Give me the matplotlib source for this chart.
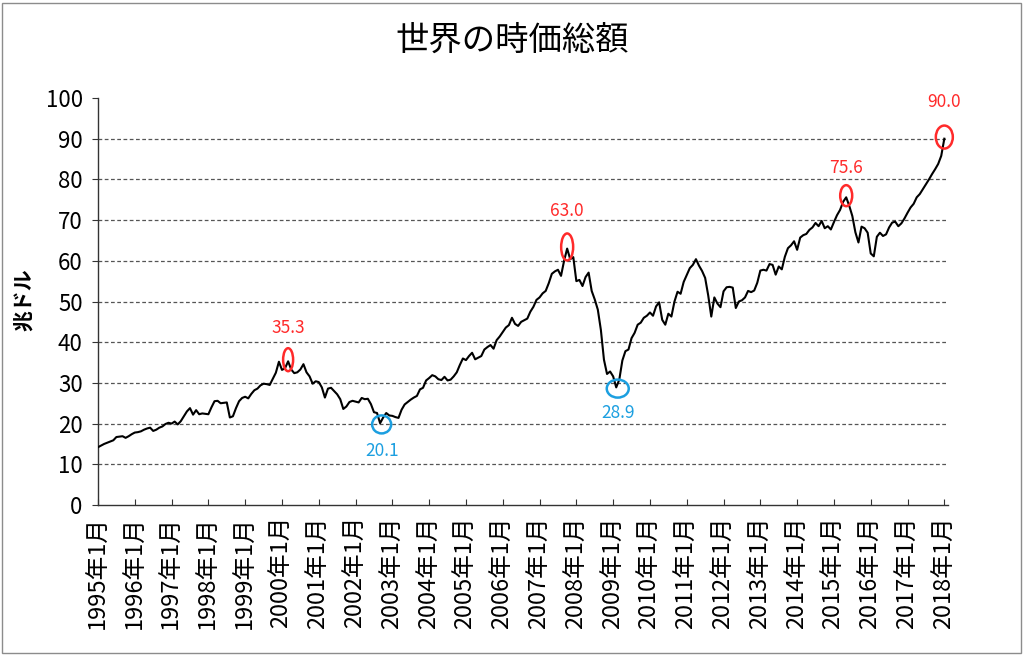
import matplotlib
matplotlib.use("Agg")
import matplotlib.pyplot as plt
from matplotlib.patches import Ellipse, Rectangle

plt.rcParams['font.family'] = ['Noto Sans CJK JP', 'DejaVu Sans']

# ---- data (monthly, Jan 1995 .. Jan 2018), trillions of USD ----
years = list(range(1995, 2019))
tick_labels = [f"{y}年1月" for y in years]

v1995 = [14.2, 14.6, 15.0, 15.3, 15.6, 15.9, 16.7, 16.8, 16.9, 16.5, 16.9, 17.4]
v1996 = [17.8, 17.9, 18.1, 18.5, 18.8, 19.0, 18.2, 18.5, 19.0, 19.3, 19.9, 20.2]
v1997 = [20.0, 20.5, 19.8, 20.6, 21.8, 23.0, 23.8, 22.2, 23.3, 22.3, 22.5, 22.4]
v1998 = [22.3, 24.0, 25.5, 25.6, 25.0, 25.1, 25.2, 21.5, 21.8, 23.8, 25.5, 26.3]
v1999 = [26.6, 26.2, 27.3, 28.2, 28.6, 29.4, 29.8, 29.7, 29.5, 31.0, 32.5, 35.2]
v2000 = [33.2, 33.6, 35.3, 33.3, 32.4, 32.6, 33.3, 34.6, 32.6, 31.6, 29.8, 30.4]
v2001 = [30.2, 28.9, 26.4, 28.6, 28.8, 28.0, 27.2, 26.0, 23.6, 24.2, 25.3, 25.6]
v2002 = [25.4, 25.2, 26.3, 26.0, 26.1, 24.8, 22.8, 22.6, 20.1, 21.5, 22.6, 22.0]
v2003 = [21.9, 21.6, 21.4, 23.4, 24.7, 25.3, 25.9, 26.4, 26.8, 28.4, 28.8, 30.6]
v2004 = [31.2, 31.9, 31.6, 30.9, 30.7, 31.5, 30.6, 30.8, 31.6, 32.6, 34.4, 36.0]
v2005 = [35.6, 36.6, 37.4, 35.8, 36.2, 36.6, 38.2, 38.8, 39.3, 38.4, 40.5, 41.4]
v2006 = [42.5, 43.6, 44.2, 46.0, 44.5, 44.0, 45.0, 45.4, 45.8, 47.5, 48.7, 50.4]
v2007 = [51.0, 52.0, 52.6, 54.5, 56.8, 57.4, 57.8, 56.3, 60.0, 63.0, 60.4, 60.9]
v2008 = [55.0, 55.3, 53.8, 56.0, 57.1, 52.6, 50.5, 48.0, 43.0, 35.7, 32.2, 32.8]
v2009 = [31.6, 28.9, 30.8, 35.5, 37.8, 38.2, 41.0, 42.3, 44.3, 44.8, 46.0, 46.5]
v2010 = [47.3, 46.5, 48.8, 49.8, 45.5, 44.3, 47.0, 46.3, 50.0, 52.4, 51.9, 54.8]
v2011 = [56.5, 58.2, 59.0, 60.4, 58.8, 57.5, 55.8, 51.5, 46.3, 51.0, 49.5, 48.6]
v2012 = [52.5, 53.5, 53.6, 53.4, 48.4, 50.0, 50.3, 51.0, 52.6, 52.3, 52.7, 54.6]
v2013 = [57.6, 57.8, 57.6, 59.2, 59.0, 56.6, 58.6, 57.9, 61.0, 63.1, 63.8, 64.8]
v2014 = [62.7, 65.7, 66.3, 66.6, 67.6, 68.2, 69.3, 68.5, 69.8, 68.0, 68.5, 67.7]
v2015 = [69.5, 71.2, 72.5, 74.5, 75.6, 73.5, 71.0, 67.0, 64.5, 68.4, 68.0, 66.9]
v2016 = [61.8, 61.1, 65.9, 66.9, 66.1, 66.5, 68.2, 69.4, 69.6, 68.5, 69.2, 70.4]
v2017 = [71.8, 73.1, 74.0, 75.6, 76.4, 77.6, 78.8, 80.0, 81.3, 82.5, 83.8, 85.8]
v2018 = [90.0]

values = (v1995 + v1996 + v1997 + v1998 + v1999 + v2000 + v2001 + v2002 +
          v2003 + v2004 + v2005 + v2006 + v2007 + v2008 + v2009 + v2010 +
          v2011 + v2012 + v2013 + v2014 + v2015 + v2016 + v2017 + v2018)
months = list(range(len(values)))

# highlighted points: (month index, value label)
peak_idx = [62, 153, 244, 276]
peak_lbl = ["35.3", "63.0", "75.6", "90.0"]
trough_idx = [92, 169]
trough_lbl = ["20.1", "28.9"]

RED = '#FF2A2A'
BLUE = '#1C9FE0'

fig = plt.figure(figsize=(10.24, 6.55), dpi=100)
ax = fig.add_axes([98/1024, 150/655, 850/1024, 407/655])

ax.plot(months, values, color='black', lw=1.5, zorder=3)

ax.set_xlim(0, 277.2)
ax.set_ylim(0, 100)
ax.set_yticks(range(0, 101, 10))
ax.set_yticklabels([str(v) for v in range(0, 101, 10)], fontsize=16)
ax.set_xticks([12 * i for i in range(len(years))])
ax.set_xticklabels(tick_labels, rotation=90, fontsize=17, va='top', ha='center')

for y in range(10, 100, 10):
    ax.axhline(y, color='#555555', lw=0.9, ls=(0, (3, 2)), zorder=1)

for s in ['top', 'right']:
    ax.spines[s].set_visible(False)
for s in ['left', 'bottom']:
    ax.spines[s].set_color('#333333')
    ax.spines[s].set_linewidth(1.0)
ax.tick_params(axis='x', direction='in', length=4, pad=8, color='#333333')
ax.tick_params(axis='y', direction='out', length=4, pad=7, color='#333333')

ax.set_ylabel("兆ドル", fontsize=15, fontweight='bold')
ax.yaxis.set_label_coords(-0.074, 0.504)

# circles and labels
px_m = 850 / 277.2
px_v = 407 / 100.0
peak_sizes = [(10, 23), (12, 27), (12, 21), (17, 23)]
peak_off = [33, 38, 29, 37]
for i, lbl, (w, h), off in zip(peak_idx, peak_lbl, peak_sizes, peak_off):
    v = values[i]
    ax.add_patch(Ellipse((i, v + 0.4), w / px_m, h / px_v, fill=False,
                         edgecolor=RED, lw=1.8, zorder=4, clip_on=False))
    ax.annotate(lbl, (i, v), xytext=(0, off * 0.72), textcoords='offset points',
                ha='center', va='center', color=RED, fontsize=12.5)

trough_sizes = [(19, 18), (22, 18)]
trough_off = [28, 26]
for i, lbl, (w, h), off in zip(trough_idx, trough_lbl, trough_sizes, trough_off):
    v = values[i]
    ax.add_patch(Ellipse((i + 0.5, v - 0.3), w / px_m, h / px_v, fill=False,
                         edgecolor=BLUE, lw=1.8, zorder=4, clip_on=False))
    ax.annotate(lbl, (i, v), xytext=(1.5, -off * 0.72), textcoords='offset points',
                ha='center', va='center', color=BLUE, fontsize=12.5)

fig.text(0.5, 1 - 40/655, "世界の時価総額", ha='center', va='center', fontsize=24)

fig.patches.append(Rectangle((2/1024, 2/655), 1019/1024, 650/655, transform=fig.transFigure,
                             fill=False, edgecolor='#8c8c8c', lw=1.0))

fig.savefig("out.png", dpi=100)
